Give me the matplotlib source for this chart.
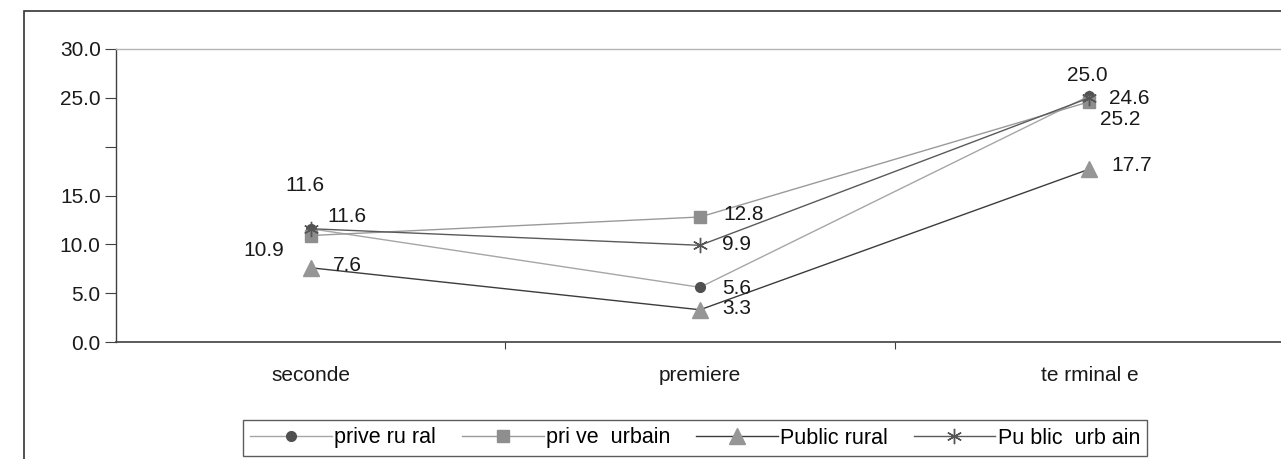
import matplotlib
matplotlib.use('Agg')

import matplotlib.pyplot as plt
from matplotlib.patches import Rectangle

plt.rcParams['font.family'] = ['Liberation Sans', 'DejaVu Sans']

# ---------- Data ----------

categories = ["seconde", "premiere", "te rminal e"]
series_names = ["prive ru ral", "pri ve  urbain", "Public rural", "Pu blic  urb ain"]

prive_rural = [11.6, 5.6, 25.2]
prive_urbain = [10.9, 12.8, 24.6]
public_rural = [7.6, 3.3, 17.7]
public_urbain = [11.6, 9.9, 25.0]

# ---------- Styles ----------

styles = [
    dict(color="#a6a6a6", marker="o", mfc="#505050", mec="#505050", ms=7),
    dict(color="#9a9a9a", marker="s", mfc="#8e8e8e", mec="#8e8e8e", ms=8),
    dict(color="#3c3c3c", marker="^", mfc="#969696", mec="#969696", ms=11),
    dict(color="#5a5a5a", marker=(6, 2, 0), mfc="none", mec="#555555", ms=11),
]

# label offsets in pixels for each point (seconde, premiere, terminale)
offsets = [
    [(-25, 43), (22, -1), (11, -24)],
    [(-67, -15), (23, 2), (20, 3)],
    [(22, 2), (22, 1), (22, 4)],
    [(17, 12), (22, 1), (-22, 22)],
]

all_series = [prive_rural, prive_urbain, public_rural, public_urbain]

fig = plt.figure(figsize=(12.81, 4.59), dpi=100)
ax = fig.add_axes([116 / 1281, 1 - 342 / 459, 1168 / 1281, (342 - 49) / 459])

x = list(range(len(categories)))
for vals, name, st, offs in zip(all_series, series_names, styles, offsets):
    ax.plot(x, vals, color=st["color"], lw=1.0, marker=st["marker"],
            markerfacecolor=st["mfc"], markeredgecolor=st["mec"],
            markersize=st["ms"], markeredgewidth=1.0, label=name, clip_on=False)
    for xi, v, off in zip(x, vals, offs):
        ax.annotate(f"{v:.1f}", (xi, v), xytext=off, textcoords="offset pixels",
                    ha="left", va="center", fontsize=15, color="#1a1a1a")

ax.set_xlim(-0.5, 2.5)
ax.set_ylim(0, 30)

ax.set_yticks([0, 5, 10, 15, 20, 25, 30])
ax.set_yticklabels(["0.0", "5.0", "10.0", "15.0", "", "25.0", "30.0"])
ax.set_xticks(x)
ax.set_xticklabels(categories)
ax.set_xticks([0.5, 1.5], minor=True)
ax.tick_params(axis="x", which="major", length=0, pad=17, labelsize=15, labelcolor="#1a1a1a")
ax.tick_params(axis="x", which="minor", length=5, width=0.8, direction="out", color="#404040")
ax.tick_params(axis="y", length=8, width=0.8, direction="out", color="#404040",
               labelsize=15, labelcolor="#1a1a1a", pad=3)

ax.spines["right"].set_visible(False)
ax.spines["top"].set_color("#b5b5b5")
ax.spines["top"].set_linewidth(1.0)
ax.spines["left"].set_color("#404040")
ax.spines["bottom"].set_color("#404040")
ax.spines["left"].set_linewidth(1.0)
ax.spines["bottom"].set_linewidth(1.2)

# ---------- Outer chart frame ----------

fig.patches.append(Rectangle((24 / 1281, -0.05), 1.1, 1 - 11 / 459 + 0.05,
                             transform=fig.transFigure, fill=False,
                             edgecolor="#333333", linewidth=1.2))

leg = fig.legend(loc="center", bbox_to_anchor=(695 / 1281, 1 - 438 / 459), ncol=4,
                 fontsize=15.5, frameon=True, fancybox=False, edgecolor="#333333",
                 handlelength=3.8, handletextpad=0.1, columnspacing=1.2,
                 borderpad=0.35, borderaxespad=0)
leg.get_frame().set_linewidth(1.0)

fig.savefig("out.png", dpi=100)
